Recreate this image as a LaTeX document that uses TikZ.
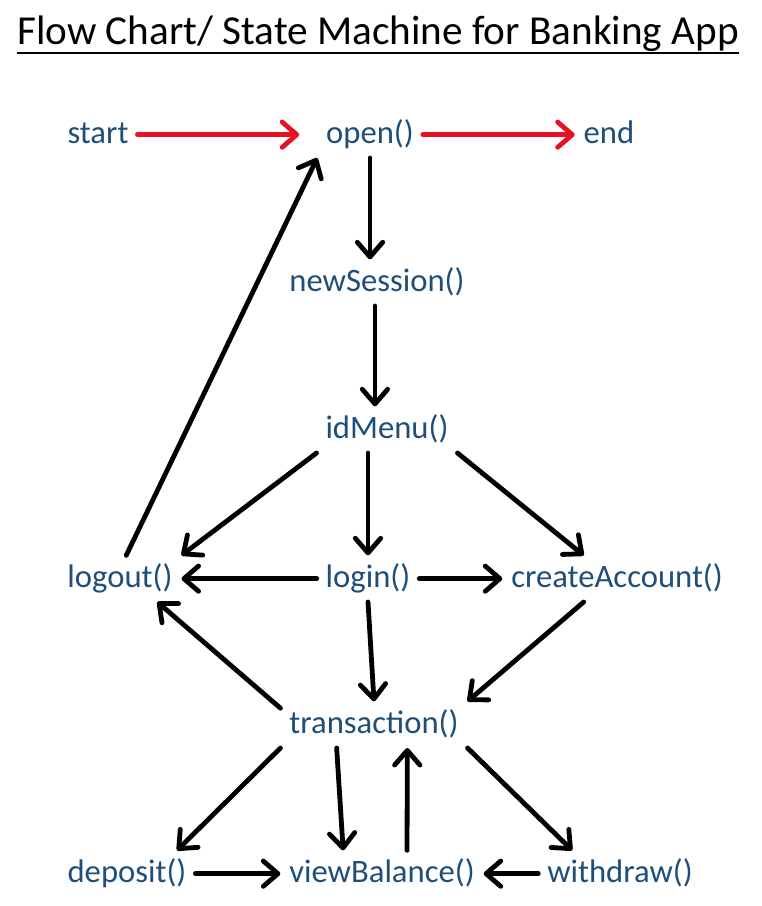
\documentclass[tikz,border=0pt]{standalone}
\usepackage{fontspec}
\setmainfont{Carlito}
\usepackage{xcolor}
\usepackage{tikz}
\usetikzlibrary{arrows.meta, positioning}
\definecolor{funcblue}{RGB}{31,78,121}
\definecolor{flowred}{RGB}{232,17,35}

\begin{document}
\begin{tikzpicture}[x=0.75pt, y=-0.75pt, thick]
    % Styles
    \tikzstyle{func} = [text=funcblue, font=\fontsize{24.5}{29}\selectfont, text height=17pt, text depth=4.5pt, inner sep=0pt, outer sep=6.75pt, anchor=base]
    \tikzstyle{arrow} = [line width=3.6pt, line cap=round, -{Straight Barb[length=11pt, width=19pt, line cap=round, line join=round]}]
    \tikzstyle{redarrow} = [arrow, draw=flowred]

    \useasboundingbox (0,0) rectangle (762,906);

    % Title
    \node (title) [anchor=base, inner sep=0pt, font=\fontsize{30.9}{36}\selectfont] at (378,45) {Flow Chart/ State Machine for Banking App};
    \draw [line width=1.9pt] ([yshift=-6pt]title.base west) -- ([yshift=-6pt]title.base east);

    % Top Row
    \node (start) [func] at (98,143) {start};
    \node (open) [func] at (370,143) {open()};
    \node (end) [func] at (609,143) {end};

    % Session Layer
    \node (newSession) [func] at (377,291) {newSession()};
    \node (idMenu) [func] at (387,438) {idMenu()};

    % Account Layer
    \node (logout) [func] at (120,587) {logout()};
    \node (login) [func] at (368,587) {login()};
    \node (createAccount) [func] at (617,587) {createAccount()};

    % Transaction Layer
    \node (transaction) [func] at (374,733) {transaction()};
    \node (deposit) [func] at (127,882) {deposit()};
    \node (viewBalance) [func] at (382,882) {viewBalance()};
    \node (withdraw) [func] at (620,882) {withdraw()};

    % Start / End Arrows
    \draw [redarrow, shorten >=13.5pt] (start) -- (open);
    \draw [redarrow] (open) -- (end);

    % Session Arrows
    \draw [arrow] (open.south) -- (open.south |- newSession.north);
    \draw [arrow] (newSession.265) -- (newSession.265 |- idMenu.north);
    \draw [arrow] (idMenu.south west) -- (logout.north east);
    \draw [arrow] (login |- idMenu.south) -- (login.north);
    \draw [arrow] (idMenu.south east) -- (createAccount.145);
    \draw [arrow] (logout.75) -- (open.south west);

    % Account Arrows
    \draw [arrow] (login) -- (logout);
    \draw [arrow] (login) -- (createAccount);
    \draw [arrow] (login.south) -- (transaction.north);
    \draw [arrow] (createAccount.215) -- (transaction.north east);
    \draw [arrow] (transaction.170) -- (logout.-32);

    % Transaction Arrows
    \draw [arrow] (transaction.south west) -- (deposit.25);
    \draw [arrow] (transaction.212) -- (viewBalance.149);
    \draw [arrow] (viewBalance.43) -- (transaction.-35);
    \draw [arrow] (transaction.south east) -- (withdraw.154);
    \draw [arrow] (deposit) -- (viewBalance);
    \draw [arrow] (withdraw) -- (viewBalance);

\end{tikzpicture}
\end{document}
